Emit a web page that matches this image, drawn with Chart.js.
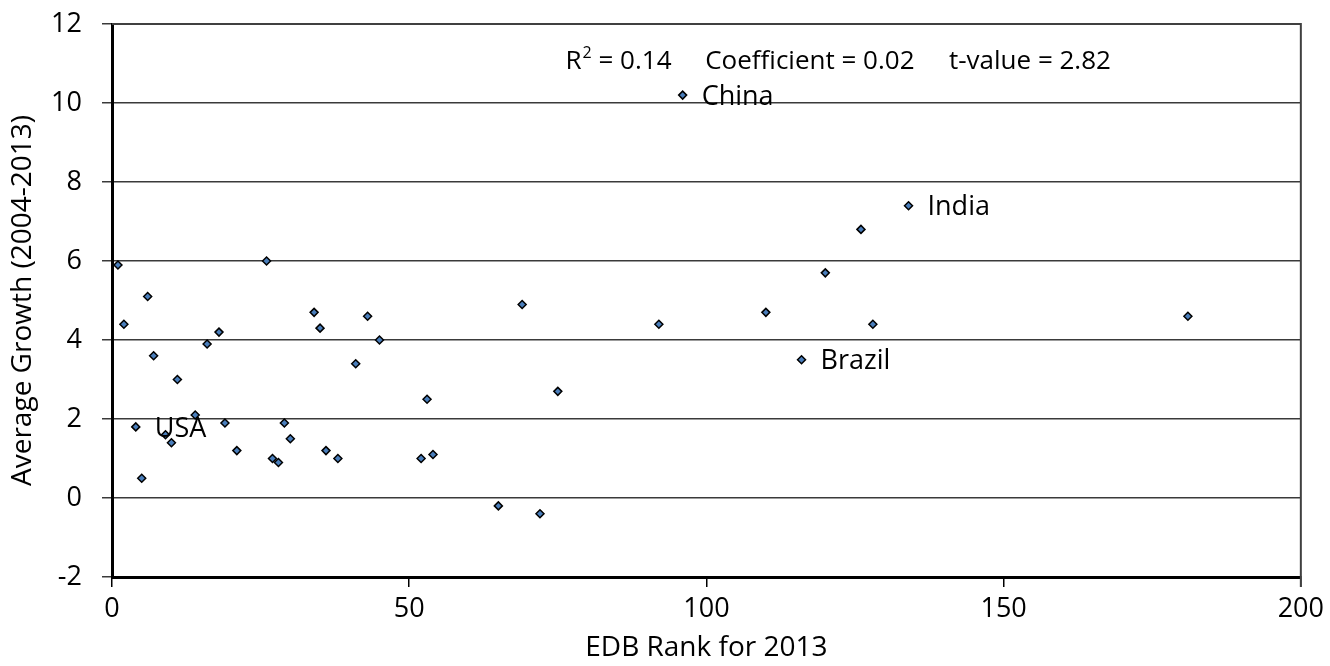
<!DOCTYPE html>
<html>
<head>
<meta charset="utf-8">
<script src="https://cdn.jsdelivr.net/npm/chart.js@4/dist/chart.umd.min.js"></script>
<style>
  html, body { margin: 0; padding: 0; background: #fff; }
  #wrap { width: 1330px; height: 666px; }
</style>
</head>
<body>
<div id="wrap"><canvas id="chart" width="1330" height="666"></canvas></div>
<script>
// Données
const edbRank = [1, 26, 6, 2, 18, 16, 7, 11, 14, 4, 19, 29, 30, 9, 10, 21, 27, 28, 5,
                 34, 35, 43, 45, 41, 53, 36, 38, 52, 54, 69, 75, 65, 72,
                 96, 134, 126, 120, 110, 92, 128, 116, 181];
const avgGrowth = [5.9, 6.0, 5.1, 4.4, 4.2, 3.9, 3.6, 3.0, 2.1, 1.8, 1.9, 1.9, 1.5, 1.6, 1.4, 1.2, 1.0, 0.9, 0.5,
                   4.7, 4.3, 4.6, 4.0, 3.4, 2.5, 1.2, 1.0, 1.0, 1.1, 4.9, 2.7, -0.2, -0.4,
                   10.2, 7.4, 6.8, 5.7, 4.7, 4.4, 4.4, 3.5, 4.6];

// Pays annotés
const labelNames = ['USA', 'China', 'India', 'Brazil'];
const labelRanks = [4, 96, 134, 116];
const labelGrowth = [1.8, 10.2, 7.4, 3.5];

const xTicks = [0, 50, 100, 150, 200];
const yTicks = [-2, 0, 2, 4, 6, 8, 10, 12];

const FONT = '"Open Sans", "Liberation Sans", sans-serif';

const points = edbRank.map((r, i) => ({ x: r, y: avgGrowth[i] }));

// Cadre haut/droite + textes
const extras = {
  id: 'extras',
  afterDraw(chart) {
    const { ctx, chartArea: a, scales } = chart;
    ctx.save();
    // cadre fin en haut et à droite
    ctx.strokeStyle = '#404040';
    ctx.lineWidth = 2;
    ctx.beginPath();
    ctx.moveTo(a.left, a.top);
    ctx.lineTo(a.right, a.top);
    ctx.lineTo(a.right, a.bottom + 10);
    ctx.stroke();

    // étiquettes des pays
    ctx.fillStyle = '#000';
    ctx.font = '27px ' + FONT;
    ctx.textBaseline = 'middle';
    ctx.textAlign = 'left';
    labelNames.forEach((name, i) => {
      const px = scales.x.getPixelForValue(labelRanks[i]);
      const py = scales.y.getPixelForValue(labelGrowth[i]);
      ctx.fillText(name, px + 19, py + 2);
    });

    // statistiques de la régression
    const ty = scales.y.getPixelForValue(10.85);
    const x0 = scales.x.getPixelForValue(76.3);
    ctx.font = '26px ' + FONT;
    ctx.textBaseline = 'alphabetic';
    ctx.fillText('R', x0, ty);
    const w = ctx.measureText('R').width;
    ctx.font = '16px ' + FONT;
    ctx.fillText('2', x0 + w + 1, ty - 11);
    const w2 = ctx.measureText('2').width;
    ctx.font = '26px ' + FONT;
    ctx.fillText(' = 0.14', x0 + w + w2 + 1, ty);
    ctx.fillText('Coefficient = 0.02', scales.x.getPixelForValue(99.8), ty);
    ctx.fillText('t-value = 2.82', scales.x.getPixelForValue(140.8), ty);
    ctx.restore();
  }
};

new Chart(document.getElementById('chart'), {
  type: 'scatter',
  data: {
    datasets: [{
      data: points,
      pointStyle: 'rectRot',
      pointRadius: 4,
      pointHoverRadius: 4,
      backgroundColor: '#4a7ebb',
      borderColor: '#000',
      borderWidth: 1.5
    }]
  },
  options: {
    responsive: false,
    animation: false,
    events: [],
    layout: { padding: { top: 24, right: 28, left: 0, bottom: 0 } },
    plugins: { legend: { display: false }, tooltip: { enabled: false } },
    scales: {
      x: {
        type: 'linear',
        min: 0,
        max: 200,
        afterBuildTicks: s => { s.ticks = xTicks.map(v => ({ value: v })); },
        afterFit: s => { s.height = 89; },
        grid: { drawOnChartArea: false, drawTicks: true, tickLength: 10, color: '#000', lineWidth: 1.5 },
        border: { color: '#000', width: 3 },
        ticks: { color: '#000', font: { family: FONT, size: 27 }, padding: 6, maxRotation: 0 },
        title: { display: true, text: 'EDB Rank for 2013', color: '#000', font: { family: FONT, size: 28 }, padding: { top: 0, bottom: 1 } }
      },
      y: {
        type: 'linear',
        min: -2,
        max: 12,
        afterBuildTicks: s => { s.ticks = yTicks.map(v => ({ value: v })); },
        afterFit: s => { s.width = 112; s.paddingTop = 0; s.paddingBottom = 0; },
        grid: { color: '#3a3a3a', lineWidth: 1.5, tickLength: 10 },
        border: { color: '#000', width: 3 },
        ticks: { color: '#000', font: { family: FONT, size: 27 }, padding: 20 },
        title: { display: true, text: 'Average Growth (2004-2013)', color: '#000', font: { family: FONT, size: 28 }, padding: { top: 6, bottom: 0 } }
      }
    }
  },
  plugins: [extras]
});
</script>
</body>
</html>
